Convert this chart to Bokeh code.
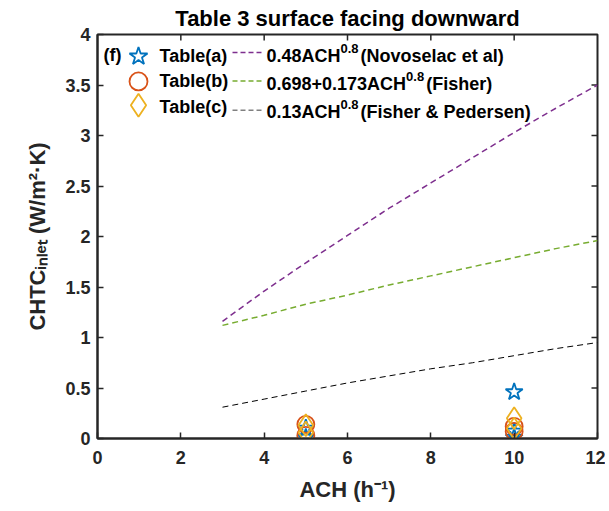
import math
from bokeh.plotting import figure
from bokeh.models import Range1d, FixedTicker, Title, ColumnDataSource
from bokeh.core.properties import value
from bokeh.embed import file_html
from bokeh.resources import INLINE

# ---------------- data ----------------
title_text = "Table 3 surface facing downward"
x_label = "ACH (h\u207b\u00b9)"
y_label = "CHTC\u1d62\u2099\u2097\u2091\u209c (W/m\u00b2\u00b7K)"
x_ticks = [0, 2, 4, 6, 8, 10, 12]
x_tick_labels = ["0", "2", "4", "6", "8", "10", "12"]
y_ticks = [0, 0.5, 1, 1.5, 2, 2.5, 3, 3.5, 4]
y_tick_labels = ["0", "0.5", "1", "1.5", "2", "2.5", "3", "3.5", "4"]

# measured points (ACH, CHTC)
ach_a = [5, 5, 10, 10, 10]
chtc_a = [0.10, 0.01, 0.46, 0.07, 0.01]
ach_b = [5, 5, 10, 10]
chtc_b = [0.14, 0.03, 0.12, 0.07]
ach_c = [5, 5, 10, 10]
chtc_c = [0.13, 0.06, 0.20, 0.10]

# correlation curves
ach_curve = [3, 4, 5, 6, 7, 8, 9, 10, 11, 12]
novoselac = [1.16, 1.46, 1.74, 2.01, 2.28, 2.53, 2.78, 3.03, 3.27, 3.50]
fisher = [1.12, 1.22, 1.33, 1.42, 1.52, 1.61, 1.70, 1.79, 1.88, 1.96]
pedersen = [0.31, 0.39, 0.47, 0.55, 0.62, 0.69, 0.75, 0.82, 0.89, 0.95]

table_names = ["Table(a)", "Table(b)", "Table(c)"]
curve_names = [("0.48ACH", "0.8", "(Novoselac et al)"),
               ("0.698+0.173ACH", "0.8", "(Fisher)"),
               ("0.13ACH", "0.8", "(Fisher & Pedersen)")]

# ---------------- style ----------------
BLUE, ORANGE, YELLOW = "#0072BD", "#D95319", "#EDB120"
PURPLE, GREEN = "#7E2F8E", "#77AC30"
AX = "#262626"
FONT = "Liberation Sans"

X_MIN, X_MAX, Y_MIN, Y_MAX = 0, 12, 0, 4
# frame position in the picture (px)
FL, FR, FT, FB = 97, 597, 33, 438
W, H = 605, 508
TICK = 6  # px, inward tick length


def dx(px):
    return X_MIN + (px - FL) / (FR - FL) * (X_MAX - X_MIN)


def dy(py):
    return Y_MIN + (FB - py) / (FB - FT) * (Y_MAX - Y_MIN)


CW = {'0': 556, '1': 556, '2': 556, '3': 556, '4': 556, '5': 556, '6': 556, '7': 556,
      '8': 556, '9': 556, '.': 278, '+': 584, '(': 333, ')': 333, ' ': 278, '-': 333,
      'A': 722, 'C': 722, 'H': 722, 'N': 722, 'T': 611, 'F': 611, 'P': 667, 'K': 722,
      'W': 944, '&': 722, '/': 278, 'a': 556, 'b': 611, 'c': 556, 'd': 611,
      'e': 556, 'f': 333, 'h': 611, 'i': 278, 'l': 278, 'n': 611, 'o': 611, 'r': 389,
      's': 556, 't': 333, 'v': 556, 'm': 889}


def tw(s, size):
    return sum(CW.get(c, 556) for c in s) / 1000.0 * size


p = figure(width=W, height=H, output_backend="svg", toolbar_location=None,
           x_range=Range1d(X_MIN, X_MAX), y_range=Range1d(Y_MIN, Y_MAX),
           min_border_left=FL, min_border_right=W - FR,
           min_border_top=FT, min_border_bottom=H - FB,
           background_fill_color="white", border_fill_color="white",
           outline_line_color=AX, outline_line_width=2)
p.grid.visible = False

p.title = Title(text=title_text, align="center", text_font=FONT,
                text_font_style="bold", text_font_size="22px", text_color="black",
                standoff=7)


def style_axis(ax, ticks, labels):
    ax.ticker = FixedTicker(ticks=ticks)
    ax.major_label_overrides = {float(t): l for t, l in zip(ticks, labels)}
    ax.axis_line_width = 2
    ax.axis_line_color = AX
    ax.major_tick_line_color = AX
    ax.major_tick_line_width = 1.5
    ax.major_tick_in = TICK
    ax.major_tick_out = 0
    ax.minor_tick_line_color = None
    ax.major_label_text_font = FONT
    ax.major_label_text_font_style = "bold"
    ax.major_label_text_color = AX
    ax.major_label_text_font_size = "18px"
    ax.axis_label_text_font = FONT
    ax.axis_label_text_font_style = "bold"
    ax.axis_label_text_color = AX
    ax.axis_label_text_font_size = "22px"


style_axis(p.xaxis[0], x_ticks, x_tick_labels)
p.xaxis[0].major_label_standoff = 12
p.xaxis[0].axis_label = x_label
p.xaxis[0].axis_label_standoff = 10
style_axis(p.yaxis[0], y_ticks, y_tick_labels)
p.yaxis[0].major_label_standoff = 7
p.yaxis[0].axis_label = y_label
p.yaxis[0].axis_label_standoff = 12

# mirrored inward ticks on the top and right edges of the box
tx = x_ticks[1:-1]
ty = y_ticks[1:-1]
p.segment(x0=tx, y0=[Y_MAX] * len(tx), x1=tx, y1=[dy(FT + TICK)] * len(tx),
          line_color=AX, line_width=1.5)
p.segment(x0=[X_MAX] * len(ty), y0=ty, x1=[dx(FR - TICK)] * len(ty), y1=ty,
          line_color=AX, line_width=1.5)

# ---------------- data marks ----------------
p.scatter(ach_a, chtc_a, marker="star", size=18, fill_color=None,
          line_color=BLUE, line_width=1.8)
p.scatter(ach_b, chtc_b, marker="circle", size=17, fill_color=None,
          line_color=ORANGE, line_width=1.8)
p.scatter(ach_c, chtc_c, marker="diamond", size=22, fill_color=None,
          line_color=YELLOW, line_width=1.8)

p.line(ach_curve, novoselac, line_color=PURPLE, line_width=1.5, line_dash="6 4")
p.line(ach_curve, fisher, line_color=GREEN, line_width=1.5, line_dash="6 4")
p.line(ach_curve, pedersen, line_color="black", line_width=1, line_dash="6 4")

# ---------------- legend (text glyphs inside the frame) ----------------
leg = {"x": [], "y": [], "t": [], "s": []}
SHIFT = 0.4  # baseline correction, fraction of font size


def put(px, py, text, size):
    leg["x"].append(dx(px))
    leg["y"].append(dy(py - SHIFT * size))
    leg["t"].append(text)
    leg["s"].append(f"{size}px")


put(103, 61, "(f)", 18)
tab_base = [61.5, 87, 112.5]
for name, b in zip(table_names, tab_base):
    put(159, b, name, 18)

form_base = [62, 90, 118]
for (a, s, r), b in zip(curve_names, form_base):
    xx = 266
    put(xx, b, a, 18)
    xx += tw(a, 18)
    put(xx, b - 10, s, 13)
    xx += tw(s, 13) + 2
    put(xx, b, r, 18)

p.text(x="x", y="y", text="t", text_font_size="s", source=ColumnDataSource(leg),
       text_font=value(FONT), text_font_style="bold", text_color="black",
       text_align="left", text_baseline="alphabetic")

mk_x = 138
mk_y = [55, 80, 104]
p.scatter([dx(mk_x)], [dy(mk_y[0])], marker="star", size=19, fill_color=None,
          line_color=BLUE, line_width=1.8)
p.scatter([dx(mk_x)], [dy(mk_y[1])], marker="circle", size=18, fill_color=None,
          line_color=ORANGE, line_width=1.8)
p.scatter([dx(mk_x)], [dy(mk_y[2])], marker="diamond", size=23, fill_color=None,
          line_color=YELLOW, line_width=1.8)

seg_y = [51, 79.5, 109]
seg_col = [PURPLE, GREEN, "#808080"]
for yy, c in zip(seg_y, seg_col):
    p.line([dx(232), dx(263)], [dy(yy), dy(yy)], line_color=c, line_width=1.5,
           line_dash="5 3")

open("out.html", "w").write(file_html(p, INLINE))
